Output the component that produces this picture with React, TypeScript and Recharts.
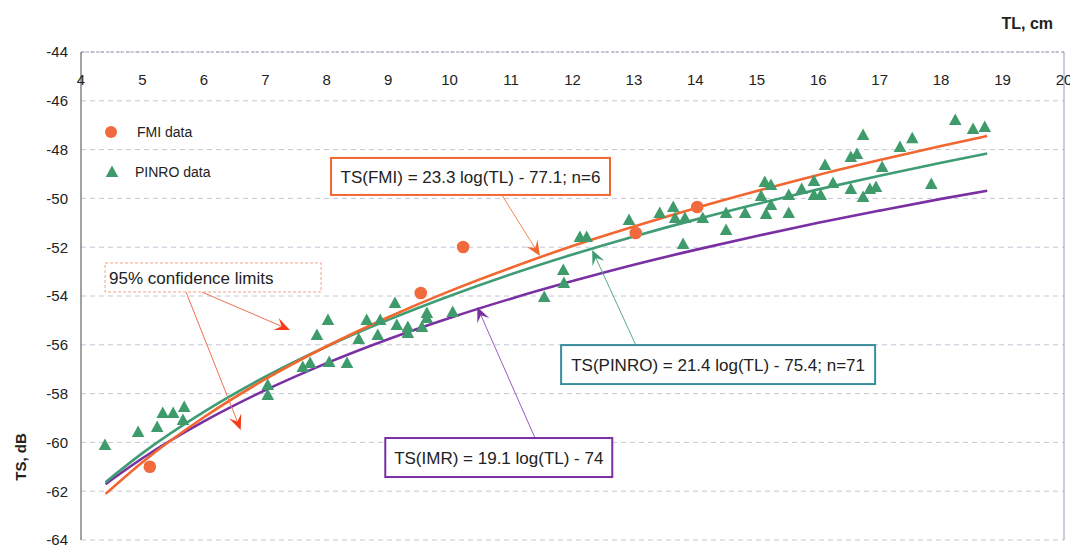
import React from 'react';
import {
  ComposedChart,
  XAxis,
  YAxis,
  CartesianGrid,
  Line,
  Scatter,
  ReferenceDot,
  ReferenceLine,
  Legend,
} from 'recharts';

// ---------- data ----------
const xTicks = [4, 5, 6, 7, 8, 9, 10, 11, 12, 13, 14, 15, 16, 17, 18, 19, 20];
const yTicks = [-64, -62, -60, -58, -56, -54, -52, -50, -48, -46, -44];

const fmiTL = [5.12, 9.53, 10.22, 13.03, 14.03];
const fmiTS = [-61.0, -53.88, -51.99, -51.42, -50.35];

const pinroTL = [
  4.39, 4.93, 5.24, 5.33, 5.5, 5.68, 5.66, 7.04, 7.04,
  7.61, 7.73, 7.84, 8.02, 8.04, 8.33, 8.52, 8.65, 8.83, 8.87, 9.11, 9.14, 9.32, 9.32, 9.55, 9.63, 9.63, 10.05,
  11.54, 11.85, 11.86, 12.12, 12.23, 12.92, 13.42, 13.64, 13.67, 13.83, 13.8, 14.12, 14.5, 14.5, 14.81,
  15.07, 15.13, 15.23, 15.15, 15.23, 15.52, 15.52, 15.73, 15.93, 15.93, 16.04, 16.11, 16.24, 16.53, 16.53,
  16.63, 16.73, 16.73, 16.84, 16.94, 17.04, 17.33, 17.53, 17.84, 18.23, 18.52, 18.71,
];
const pinroTS = [
  -60.11, -59.57, -59.37, -58.8, -58.8, -58.55, -59.08, -57.65, -58.06,
  -56.91, -56.75, -55.6, -54.98, -56.7, -56.75, -55.76, -54.98, -55.6, -54.98, -54.29, -55.19, -55.27, -55.52, -55.27, -54.7, -54.9, -54.66,
  -54.04, -52.93, -53.47, -51.58, -51.58, -50.89, -50.6, -50.35, -50.8, -50.8, -51.87, -50.8, -50.6, -51.3, -50.6,
  -49.9, -49.33, -49.45, -50.64, -50.27, -49.86, -50.6, -49.61, -49.29, -49.86, -49.86, -48.63, -49.37, -49.61, -48.3,
  -48.18, -47.4, -49.94, -49.61, -49.53, -48.71, -47.89, -47.53, -49.41, -46.79, -47.16, -47.07,
];

const curveTL = [4.4, 5, 6, 7, 8, 9, 10, 11, 12, 13, 14, 15, 16, 17, 18, 18.75];
const fmiFit = [-62.11, -60.81, -58.97, -57.41, -56.06, -54.87, -53.8, -52.84, -51.95, -51.15, -50.4, -49.7, -49.04, -48.43, -47.85, -47.44];
const pinroFit = [-61.63, -60.44, -58.75, -57.31, -56.07, -54.98, -54.0, -53.11, -52.3, -51.56, -50.87, -50.23, -49.63, -49.07, -48.54, -48.16];
const imrFit = [-61.71, -60.65, -59.14, -57.86, -56.75, -55.77, -54.9, -54.11, -53.39, -52.72, -52.11, -51.54, -51.0, -50.5, -50.02, -49.69];

const legendLabels = ['FMI data', 'PINRO data'];
const boxTexts = [
  'TS(FMI) = 23.3 log(TL) - 77.1; n=6',
  '95% confidence limits',
  'TS(PINRO) = 21.4 log(TL) - 75.4; n=71',
  'TS(IMR) = 19.1 log(TL) - 74',
];
// anchor of each text box (centre), in data units [TL, TS]
const boxAnchorTL = [10.34, 6.15, 14.37, 10.8];
const boxAnchorTS = [-49.1, -53.24, -56.81, -60.62];
// arrows: start -> tip, in data units
const arrowFromTL = [5.97, 5.71, 10.85, 13.03, 11.39];
const arrowFromTS = [-53.84, -53.84, -49.86, -56.01, -59.82];
const arrowToTL = [7.4, 6.6, 11.47, 12.32, 10.45];
const arrowToTS = [-55.39, -59.49, -52.36, -52.11, -54.45];

// ---------- derived tables ----------
const fmiPoints = fmiTL.map((x, i) => ({ x, y: fmiTS[i] }));
const pinroPoints = pinroTL.map((x, i) => ({ x, y: pinroTS[i] }));
const fmiCurve = curveTL.map((x, i) => ({ x, y: fmiFit[i] }));
const pinroCurve = curveTL.map((x, i) => ({ x, y: pinroFit[i] }));
const imrCurve = curveTL.map((x, i) => ({ x, y: imrFit[i] }));

// ---------- styles ----------
const FONT = '"Liberation Sans", Arial, sans-serif';
const C_FMI = '#f2662f';
const C_FMI_DOT = '#f06a3e';
const C_PINRO_LINE = '#3f9c74';
const C_PINRO_DOT = '#3f9a6c';
const C_IMR = '#7a30a2';
const C_TEAL_BOX = '#3a8e9c';
const C_RED = '#f23c1c';

const boxStyles = [
  { w: 279, h: 37, stroke: C_FMI, sw: 2, dash: undefined as string | undefined, align: 'middle' },
  { w: 216, h: 29, stroke: '#f4a088', sw: 1, dash: '3 2', align: 'start' },
  { w: 314, h: 39, stroke: C_TEAL_BOX, sw: 2, dash: undefined, align: 'middle' },
  { w: 227, h: 39, stroke: C_IMR, sw: 2, dash: undefined, align: 'middle' },
];
const arrowStyles = [
  { head: C_RED, line: '#f07050' },
  { head: C_RED, line: '#f07050' },
  { head: C_FMI, line: '#f4845a' },
  { head: C_PINRO_LINE, line: '#5aa98a' },
  { head: C_IMR, line: '#9a5cc0' },
];

const circleShape = (p: any) => <circle cx={p.cx} cy={p.cy} r={6.3} fill={C_FMI_DOT} />;
const triangleShape = (p: any) => {
  const { cx, cy } = p;
  return (
    <polygon
      points={`${cx},${cy - 6.5} ${cx + 6.3},${cy + 5} ${cx - 6.3},${cy + 5}`}
      fill={C_PINRO_DOT}
    />
  );
};

const makeBox = (idx: number) => (p: any) => {
  const s = boxStyles[idx];
  const { cx, cy } = p;
  const left = cx - s.w / 2;
  const top = cy - s.h / 2;
  return (
    <g>
      <rect x={left} y={top} width={s.w} height={s.h} fill="#fff" stroke={s.stroke} strokeWidth={s.sw} strokeDasharray={s.dash} />
      <text
        x={s.align === 'middle' ? cx : left + 4}
        y={cy + 1}
        textAnchor={s.align as any}
        dominantBaseline="central"
        fontSize={17}
        fontFamily={FONT}
        fill="#222"
      >
        {boxTexts[idx]}
      </text>
    </g>
  );
};

const makeArrow = (idx: number) => (p: any) => {
  const { x1, y1, x2, y2 } = p;
  if ([x1, y1, x2, y2].some((v) => typeof v !== 'number' || isNaN(v))) return <g />;
  const s = arrowStyles[idx];
  const dx = x2 - x1;
  const dy = y2 - y1;
  const len = Math.hypot(dx, dy) || 1;
  const ux = dx / len;
  const uy = dy / len;
  const L = 15;
  const W = 6.5;
  const N = 9;
  const bx = x2 - ux * L;
  const by = y2 - uy * L;
  const nx = x2 - ux * N;
  const ny = y2 - uy * N;
  const px = -uy;
  const py = ux;
  const pts = `${x2},${y2} ${bx + px * W},${by + py * W} ${nx},${ny} ${bx - px * W},${by - py * W}`;
  return (
    <g>
      <line x1={x1} y1={y1} x2={nx} y2={ny} stroke={s.line} strokeWidth={1} />
      <polygon points={pts} fill={s.head} />
    </g>
  );
};

const renderLegend = () => (
  <svg width={160} height={72} style={{ display: 'block', overflow: 'visible' }}>
    <circle cx={11} cy={14} r={6} fill={C_FMI_DOT} />
    <text x={37} y={14} dominantBaseline="central" fontSize={14} fontFamily={FONT} fill="#222">
      {legendLabels[0]}
    </text>
    <polygon points="12,47.5 18.3,59 5.7,59" fill={C_PINRO_DOT} />
    <text x={35} y={54} dominantBaseline="central" fontSize={14} fontFamily={FONT} fill="#222">
      {legendLabels[1]}
    </text>
  </svg>
);

const W = 1070;
const H = 540;
const MARGIN = { top: 44, right: 14, bottom: 8, left: 13 };
const Y_AXIS_W = 60;

export default function App() {
  return (
    <div style={{ width: W, height: H, fontFamily: FONT, background: '#fff' }}>
      <ComposedChart width={W} height={H} margin={MARGIN} style={{ fontFamily: FONT }}>
        <CartesianGrid vertical={false} stroke="#c6c6d8" strokeDasharray="5 4" />
        <XAxis
          type="number"
          dataKey="x"
          domain={[4, 20]}
          ticks={xTicks}
          interval={0}
          orientation="top"
          mirror
          tickLine={false}
          tickMargin={16}
          axisLine={{ stroke: '#9a9aa8', strokeDasharray: '3 2' }}
          tick={{ fontSize: 15, fill: '#222', fontFamily: FONT }}
          allowDataOverflow
        />
        <YAxis
          type="number"
          domain={[-64, -44]}
          ticks={yTicks}
          interval={0}
          width={Y_AXIS_W}
          tickLine={false}
          tickMargin={7}
          axisLine={{ stroke: '#666', strokeWidth: 1.2 }}
          tick={{ fontSize: 15, fill: '#222', fontFamily: FONT }}
          allowDataOverflow
        />
        <ReferenceLine x={20} stroke="#a8a8c0" strokeWidth={1.2} ifOverflow="visible" />

        <Line data={imrCurve} dataKey="y" type="monotone" stroke={C_IMR} strokeWidth={2.6} dot={false} isAnimationActive={false} name="IMR" legendType="none" />
        <Line data={pinroCurve} dataKey="y" type="monotone" stroke={C_PINRO_LINE} strokeWidth={2.6} dot={false} isAnimationActive={false} name="PINRO fit" legendType="none" />
        <Line data={fmiCurve} dataKey="y" type="monotone" stroke={C_FMI} strokeWidth={2.6} dot={false} isAnimationActive={false} name="FMI fit" legendType="none" />

        <Scatter data={pinroPoints} dataKey="y" shape={triangleShape} isAnimationActive={false} name="PINRO data" />
        <Scatter data={fmiPoints} dataKey="y" shape={circleShape} isAnimationActive={false} name="FMI data" />

        {arrowFromTL.map((_, i) => (
          <ReferenceLine
            key={`arrow-${i}`}
            segment={[
              { x: arrowFromTL[i], y: arrowFromTS[i] },
              { x: arrowToTL[i], y: arrowToTS[i] },
            ]}
            shape={makeArrow(i)}
            ifOverflow="visible"
          />
        ))}
        {boxAnchorTL.map((_, i) => (
          <ReferenceDot key={`box-${i}`} x={boxAnchorTL[i]} y={boxAnchorTS[i]} shape={makeBox(i)} ifOverflow="visible" />
        ))}

        <Legend
          content={renderLegend}
          layout="vertical"
          align="center"
          verticalAlign="middle"
          wrapperStyle={{ left: 92, top: 110, width: 160, height: 72 }}
        />

        <text x={1045} y={15} textAnchor="end" dominantBaseline="central" fontSize={16} fontWeight="bold" fontFamily={FONT} fill="#222">
          TL, cm
        </text>
        <text
          x={12}
          y={449}
          transform="rotate(-90 12 449)"
          textAnchor="middle"
          dominantBaseline="central"
          fontSize={15}
          fontWeight="bold"
          fontFamily={FONT}
          fill="#222"
        >
          TS, dB
        </text>
      </ComposedChart>
    </div>
  );
}
